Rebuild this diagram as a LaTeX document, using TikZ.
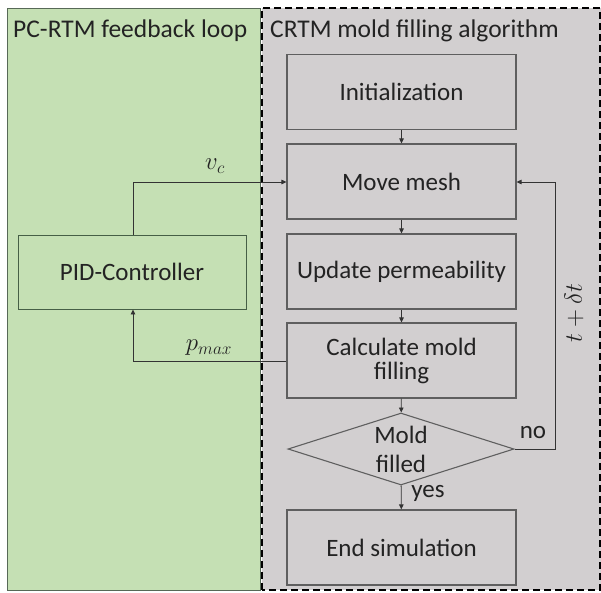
\documentclass[tikz,border=0pt]{standalone}
\usepackage{fontspec}
\setmainfont{Carlito}
\usetikzlibrary{arrows.meta,shapes.geometric}
\definecolor{panelgreen}{RGB}{197,224,180}
\definecolor{panelgray}{RGB}{210,207,208}
\definecolor{edgegray}{RGB}{95,95,95}
\definecolor{pidedge}{RGB}{70,95,70}
\definecolor{txt}{RGB}{35,35,35}
\tikzset{
  stepbox/.style={draw=edgegray, line width=1.1pt, fill=panelgray, minimum width=229pt, minimum height=75pt, inner sep=0pt, align=center, text=txt, font=\fontsize{25}{26}\selectfont},
  decbox/.style={draw=edgegray, line width=1.1pt, fill=panelgray, shape=diamond, aspect=3.14, minimum width=226pt, minimum height=72pt, inner sep=0pt, align=center, text=txt, font=\fontsize{25}{29}\selectfont},
  pidbox/.style={draw=pidedge, line width=0.9pt, fill=panelgreen, minimum width=228pt, minimum height=74pt, inner sep=0pt, text=txt, font=\fontsize{25}{26}\selectfont},
  conn/.style={draw=black!80, line width=0.9pt},
  arr/.style={conn, -{Triangle[length=5pt,width=4.5pt]}},
  lbl/.style={text=txt, font=\fontsize{25}{26}\selectfont, inner sep=0pt},
  ttl/.style={text=txt, font=\fontsize{25.5}{27}\selectfont, inner sep=0pt},
  mlbl/.style={text=txt, font=\fontsize{26}{28}\selectfont, inner sep=0pt}
}
\begin{document}
\begin{tikzpicture}[x=1pt,y=-1pt]
\useasboundingbox (0,0) rectangle (601,592);
% panels
\fill[panelgreen] (7,8) rectangle (260,590);
\draw[draw=pidedge!70!gray, line width=1pt] (7,8) rectangle (260,590);
\fill[panelgray] (262,8) rectangle (601,590);
\draw[black, line width=1.2pt, dash pattern=on 7pt off 4pt] (262,590) -- (262,8) -- (600,8) -- (600,590) -- cycle;
% titles
\node[ttl, anchor=west] (t1) at (13,31) {PC-RTM feedback loop};
\node[ttl, anchor=west] (t2) at (270,31) {CRTM mold filling algorithm};
% steps
\node[stepbox] (init) at (401.5,92) {Initialization};
\node[stepbox] (move) at (401.5,181.5) {Move mesh};
\node[stepbox] (upd) at (401.5,271.5) {Update permeability};
\node[stepbox, font=\fontsize{25}{24}\selectfont] (calc) at (401.5,360.5) {Calculate mold\\filling};
\node[decbox] (dec) at (401,449) {Mold\\filled};
\node[stepbox] (endn) at (401.5,547.5) {End simulation};
\node[pidbox] (pid) at (132,272) {PID-Controller};
% flow arrows
\draw[arr] (init) -- (move);
\draw[arr] (move) -- (upd);
\draw[arr] (upd) -- (calc);
\draw[arr] (calc) -- (dec);
\draw[arr] (dec) -- (endn);
% loop back
\coordinate (cr) at (555,449);
\coordinate (cu) at (555,182);
\draw[arr] (dec.east) -- (cr) -- (cu) -- (cu -| move.east);
% controller
\coordinate (vc1) at (133,182);
\draw[arr] (pid.north -| vc1) -- (vc1) -- (vc1 -| move.west);
\coordinate (pm1) at (133,361);
\draw[arr] (pm1 -| calc.west) -- (pm1) -- (pid.south -| pm1);
% labels
\node[mlbl] (vc) at (215,166) {$v_c$};
\node[mlbl] (pmax) at (209,348) {$p_{max}$};
\node[lbl] (no) at (533,433) {no};
\node[lbl] (yes) at (428,493) {yes};
\node[mlbl, rotate=90] (dt) at (574,313) {$t+\delta t$};
\end{tikzpicture}
\end{document}
